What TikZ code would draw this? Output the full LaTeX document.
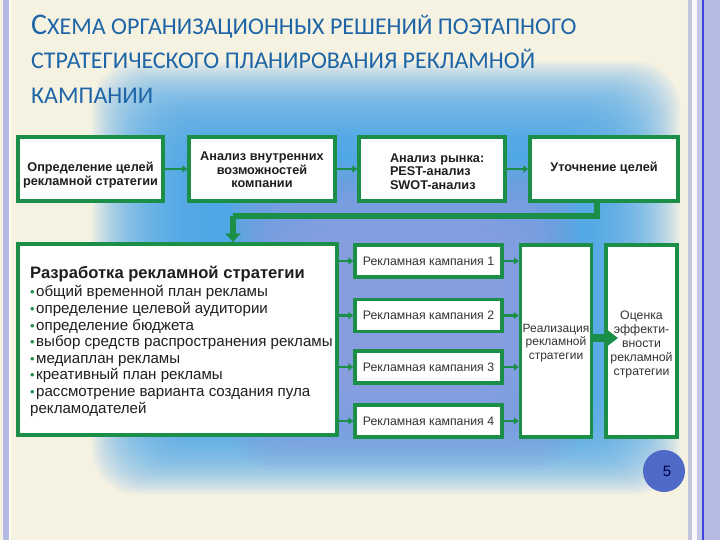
\documentclass[tikz,border=0pt]{standalone}
\usepackage{fontspec}
\setmainfont{Liberation Sans}
\newfontfamily\titlefont{Carlito}
\usetikzlibrary{arrows.meta}
\definecolor{gbord}{HTML}{1B8E47}
\definecolor{cream}{HTML}{F6F2E2}
\definecolor{lav}{HTML}{B4BAE2}
\definecolor{titleblue}{HTML}{1D65A6}
\definecolor{glowblue}{HTML}{4CA8F2}
\definecolor{glowlav}{HTML}{949EE0}
\definecolor{pagecirc}{HTML}{4F69C6}
\definecolor{txt}{HTML}{1E1E1E}
\newcommand{\gbul}{\textcolor{gbord}{\scalebox{0.85}{•}}\hspace{1.5pt}}
\tikzset{
  box/.style={draw=gbord, line width=3.5pt, fill=white, rectangle, inner sep=0pt},
  boxtext/.style={inner sep=0pt, align=center, text=txt},
  toptext/.style={boxtext, font=\fontsize{12.7}{13.5}\selectfont\bfseries},
  camptext/.style={boxtext, font=\fontsize{12.3}{14}\selectfont, text=black!80},
  sarrow/.style={draw=gbord, line width=2.5pt, -{Triangle[length=5pt,width=7pt]}},
  barrow/.style={draw=gbord, line width=5.5pt, -{Triangle[length=9pt,width=15pt]}},
  titletext/.style={anchor=base west, inner sep=0, text=titleblue, font=\titlefont\fontsize{24}{26}\selectfont}
}
\begin{document}
\begin{tikzpicture}[x=1pt,y=-1pt]
\useasboundingbox (0,0) rectangle (720,540);
% background
\fill[cream] (0,0) rectangle (720,540);
\fill[lav] (3,0) rectangle (9,540);
\fill[white!70!cream] (9,0) rectangle (11,540);
\fill[black!15!lav!60!white] (688,0) rectangle (692,540);
\fill[white!90!lav] (692,0) rectangle (697,540);
\fill[lav!80!white] (697,0) rectangle (702,540);
\fill[blue!60!lav!90!black] (702,0) rectangle (703.5,540);
\fill[lav] (703.5,0) rectangle (720,540);
% glow
\foreach \i in {0,...,37}{
  \fill[glowblue, fill opacity=0.075, rounded corners=45pt] (92+\i*3,62+\i*2.6) rectangle (680-\i*3,494-\i*2.6);
}
\foreach \i in {0,...,31}{
  \fill[glowlav, fill opacity=0.07, rounded corners=45pt] (230+\i*3,160+\i*3) rectangle (580-\i*3,470-\i*3);
}
% title
\node[titletext] (t1) at (31,35) {{\fontsize{30}{30}\selectfont С}ХЕМА ОРГАНИЗАЦИОННЫХ РЕШЕНИЙ ПОЭТАПНОГО};
\node[titletext] (t2) at (31,69) {СТРАТЕГИЧЕСКОГО ПЛАНИРОВАНИЯ РЕКЛАМНОЙ};
\node[titletext] (t3) at (31,104) {КАМПАНИИ};
% top row
\node[box, minimum width=145pt, minimum height=64pt] (a) at (90.5,169) {};
\node[box, minimum width=146pt, minimum height=64pt] (b) at (262,169) {};
\node[box, minimum width=146pt, minimum height=64pt] (c) at (432,169) {};
\node[box, minimum width=148pt, minimum height=64pt] (d) at (604,169) {};
\node[toptext] (at) at (90.5,175) {Определение целей\\рекламной стратегии};
\node[toptext] (bt) at (262,170) {Анализ внутренних\\возможностей\\компании};
\node[toptext, align=left, text width=100pt] (ct) at (440,171.5) {Анализ рынка:\\PEST-анализ\\SWOT-анализ};
\node[toptext] (dt) at (604,168) {Уточнение целей};
\draw[sarrow] (a) -- (b);
\draw[sarrow] (b) -- (c);
\draw[sarrow] (c) -- (d);
% big box
\node[box, minimum width=319pt, minimum height=191pt] (e) at (177.5,339.5) {};
\node[anchor=north west, inner sep=0, align=left, text=txt, font=\fontsize{15.1}{16.6}\selectfont] (etext) at (30,265.5)
 {{\bfseries\fontsize{16.6}{16.6}\selectfont Разработка рекламной стратегии}\\[2.2pt]
  \gbul общий временной план рекламы\\
  \gbul определение целевой аудитории\\
  \gbul определение бюджета\\
  \gbul выбор средств распространения рекламы\\
  \gbul медиаплан рекламы\\
  \gbul креативный план рекламы\\
  \gbul рассмотрение варианта создания пула\\
  рекламодателей};
% connector D -> E
\coordinate (dd) at (597,216);
\coordinate (ee) at (233,216);
\draw[draw=gbord, line width=5.5pt] (d.south -| dd) -- (dd) -- (ee);
\draw[barrow] (ee) -- (ee |- e.north);
% campaigns
\node[box, minimum width=147pt, minimum height=32pt] (k1) at (428.5,261) {};
\node[box, minimum width=147pt, minimum height=32pt] (k2) at (428.5,315.5) {};
\node[box, minimum width=147pt, minimum height=32pt] (k3) at (428.5,367) {};
\node[box, minimum width=147pt, minimum height=32pt] (k4) at (428.5,421) {};
\node[camptext] (k1t) at (428.5,261) {Рекламная кампания 1};
\node[camptext] (k2t) at (428.5,315.5) {Рекламная кампания 2};
\node[camptext] (k3t) at (428.5,367) {Рекламная кампания 3};
\node[camptext] (k4t) at (428.5,421) {Рекламная кампания 4};
\node[box, minimum width=71pt, minimum height=192pt] (f) at (556,341) {};
\node[box, minimum width=71pt, minimum height=192pt] (g) at (641.5,341) {};
\node[camptext, font=\fontsize{12}{13.2}\selectfont] (ft) at (556,343) {Реализация\\рекламной\\стратегии};
\node[camptext, font=\fontsize{12.3}{14}\selectfont] (gt) at (641.5,344) {Оценка\\эффекти-\\вности\\рекламной\\стратегии};
\foreach \k in {k1,k2,k3,k4}{
  \draw[sarrow] (e.east |- \k) -- (\k.west);
  \draw[sarrow] (\k.east) -- (f.west |- \k);
}
\coordinate (gtip) at (618,338);
\draw[draw=gbord, line width=8pt, -{Triangle[length=13pt,width=19pt]}] (f.east |- gtip) -- (gtip);
% page number
\node[circle, fill=pagecirc, minimum size=42pt, inner sep=0, font=\fontsize{15}{15}\selectfont, text=blue!30!black] (pg) at (664,471) {\hspace{6pt}5};
\end{tikzpicture}
\end{document}
